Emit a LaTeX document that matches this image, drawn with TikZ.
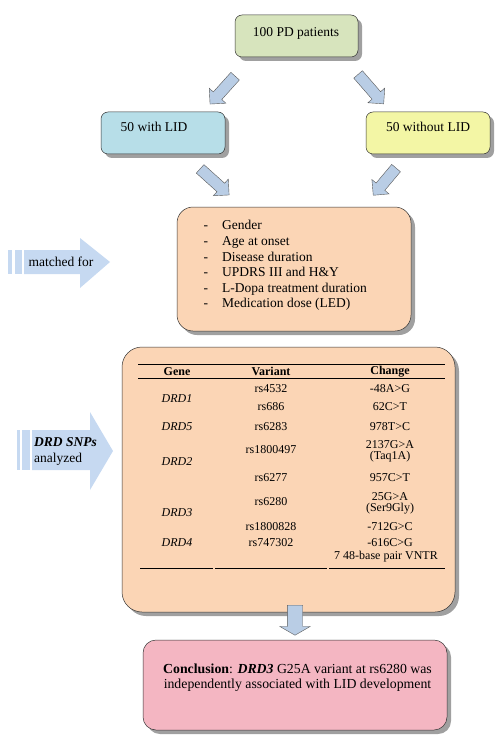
\documentclass[tikz,border=0pt]{standalone}
\usepackage{fontspec}
\setmainfont{Liberation Serif}
\usetikzlibrary{shapes.arrows,shadows}
\definecolor{cgreen}{HTML}{D7E4BD}
\definecolor{cblue}{HTML}{B7DEE8}
\definecolor{cyellow}{HTML}{F3F6A5}
\definecolor{cpeach}{HTML}{FBD5B5}
\definecolor{cpink}{HTML}{F4B6C2}
\definecolor{carrow}{HTML}{B9CDE5}
\definecolor{cside}{HTML}{C6D9F1}
\definecolor{cshadow}{HTML}{A0A0A0}
\begin{document}
\begin{tikzpicture}[x=1pt,y=-1pt,
  box/.style={draw=black!80, line width=0.5pt, inner sep=0pt,
    drop shadow={shadow xshift=4pt, shadow yshift=-4pt, fill=cshadow, opacity=1}},
  txt/.style={inner sep=0pt, font=\fontsize{13.5}{15.6}\selectfont},
  tab/.style={inner sep=0pt, font=\fontsize{12}{13}\selectfont},
  tabb/.style={inner sep=0pt, font=\fontsize{12}{13}\selectfont\bfseries},
  tabi/.style={inner sep=0pt, font=\fontsize{12}{13}\selectfont\itshape},
  barrow/.style={single arrow, draw=black!65, line width=0.4pt, fill=carrow,
    inner sep=5.5pt, single arrow head extend=5.5pt, single arrow tip angle=90,
    minimum height=#1},
  side/.style={fill=cside, draw=none}
]
\useasboundingbox (0,0) rectangle (503,738);

% top boxes
\node[box, fill=cgreen, rounded corners=7pt, minimum width=123pt, minimum height=42pt] (pd) at (296.5,36) {};
\node[txt] (pdt) at (296,33) {100 PD patients};
\node[box, fill=cblue, rounded corners=7pt, minimum width=124pt, minimum height=42pt] (lid) at (163,133) {};
\node[txt] (lidt) at (154,127) {50 with LID};
\node[box, fill=cyellow, rounded corners=7pt, minimum width=124pt, minimum height=42pt] (nolid) at (428,133) {};
\node[txt] (nolidt) at (428,127) {50 without LID};

% block arrows
\node[barrow=37.5pt, rotate=-132] (a1) at (224.5,88) {};
\node[barrow=39pt, rotate=-49] (a2) at (369,87) {};
\node[barrow=39pt, rotate=-42] (a3) at (212.5,180) {};
\node[barrow=35.5pt, rotate=-130] (a4) at (386.5,179.5) {};

% matched box
\node[box, fill=cpeach, rounded corners=16pt, minimum width=234pt, minimum height=124pt] (match) at (294,269) {};
\foreach \t [count=\i] in {Gender, Age at onset, Disease duration, UPDRS III and H\&Y, L-Dopa treatment duration, Medication dose (LED)} {
  \node[txt, anchor=base west] (d\i) at (203.5, 214.2+15.6*\i) {-};
  \node[txt, anchor=base west] (m\i) at (222, 214.2+15.6*\i) {\t};
}

% matched for side arrow
\fill[side] (8,250) rectangle (12,274);
\fill[side] (15,250) rectangle (22,274);
\fill[side] (24,250) -- (80,250) -- (80,238) -- (110,262) -- (80,288) -- (80,274) -- (24,274) -- cycle;
\node[txt] (mf) at (61,262) {matched for};

% table box
\node[box, fill=cpeach, rounded corners=20pt, minimum width=333pt, minimum height=265pt] (tbl) at (288.5,479.5) {};
\draw[line width=0.6pt] (138,364) -- (445,364);
\draw[line width=0.6pt] (138,378) -- (445,378);
\draw[line width=0.6pt] (140,568) -- (213,568);
\draw[line width=0.6pt] (215,568) -- (327,568);
\draw[line width=0.6pt] (329,568) -- (445,568);
\node[tabb] (h1) at (177,371.5) {Gene};
\node[tabb] (h2) at (271,371.5) {Variant};
\node[tabb] (h3) at (390,371.5) {Change};
% genes
\node[tabi] (g1) at (177,399) {DRD1};
\node[tabi] (g5) at (177,427) {DRD5};
\node[tabi] (g2) at (177,462) {DRD2};
\node[tabi] (g3) at (177,513) {DRD3};
\node[tabi] (g4) at (177,543) {DRD4};
% variants
\node[tab] (v1) at (271,389) {rs4532};
\node[tab] (v2) at (271,407) {rs686};
\node[tab] (v3) at (271,427) {rs6283};
\node[tab] (v4) at (271,450) {rs1800497};
\node[tab] (v5) at (271,478) {rs6277};
\node[tab] (v6) at (271,502) {rs6280};
\node[tab] (v7) at (271,527) {rs1800828};
\node[tab] (v8) at (271,543) {rs747302};
% changes
\node[tab] (c1) at (390,389) {-48A>G};
\node[tab] (c2) at (390,407) {62C>T};
\node[tab] (c3) at (390,427) {978T>C};
\node[tab] (c4) at (390,445) {2137G>A};
\node[tab] (c4b) at (390,457) {(Taq1A)};
\node[tab] (c5) at (390,478) {957C>T};
\node[tab] (c6) at (390,497) {25G>A};
\node[tab] (c6b) at (390,509) {(Ser9Gly)};
\node[tab] (c7) at (390,527) {-712G>C};
\node[tab] (c8) at (390,543) {-616C>G};
\node[tab] (c9) at (386,557) {7 48-base pair VNTR};

% DRD SNPs side arrow
\fill[side] (17,430) rectangle (20,470);
\fill[side] (22,430) rectangle (30,470);
\fill[side] (32,430) -- (90,430) -- (90,412) -- (113,451) -- (90,490) -- (90,470) -- (32,470) -- cycle;
\node[txt, anchor=west] (snp1) at (34,442) {\textbf{\textit{DRD SNPs}}};
\node[txt, anchor=west] (snp2) at (34,459) {analyzed};

% down arrow
\node[single arrow, draw=black!65, line width=0.4pt, fill=carrow, inner sep=7.5pt,
  single arrow head extend=7.5pt, single arrow tip angle=120, minimum height=30pt,
  rotate=-90] (a5) at (295,618) {};

% conclusion
\node[box, fill=cpink, rounded corners=13pt, minimum width=304pt, minimum height=90pt] (conc) at (295,685) {};
\node[txt, align=center, font=\fontsize{13.8}{15}\selectfont] (conct) at (297.5,677.5)
  {\textbf{Conclusion}: \textbf{\textit{DRD3}} G25A variant at rs6280 was\\independently associated with LID development};
\end{tikzpicture}
\end{document}
